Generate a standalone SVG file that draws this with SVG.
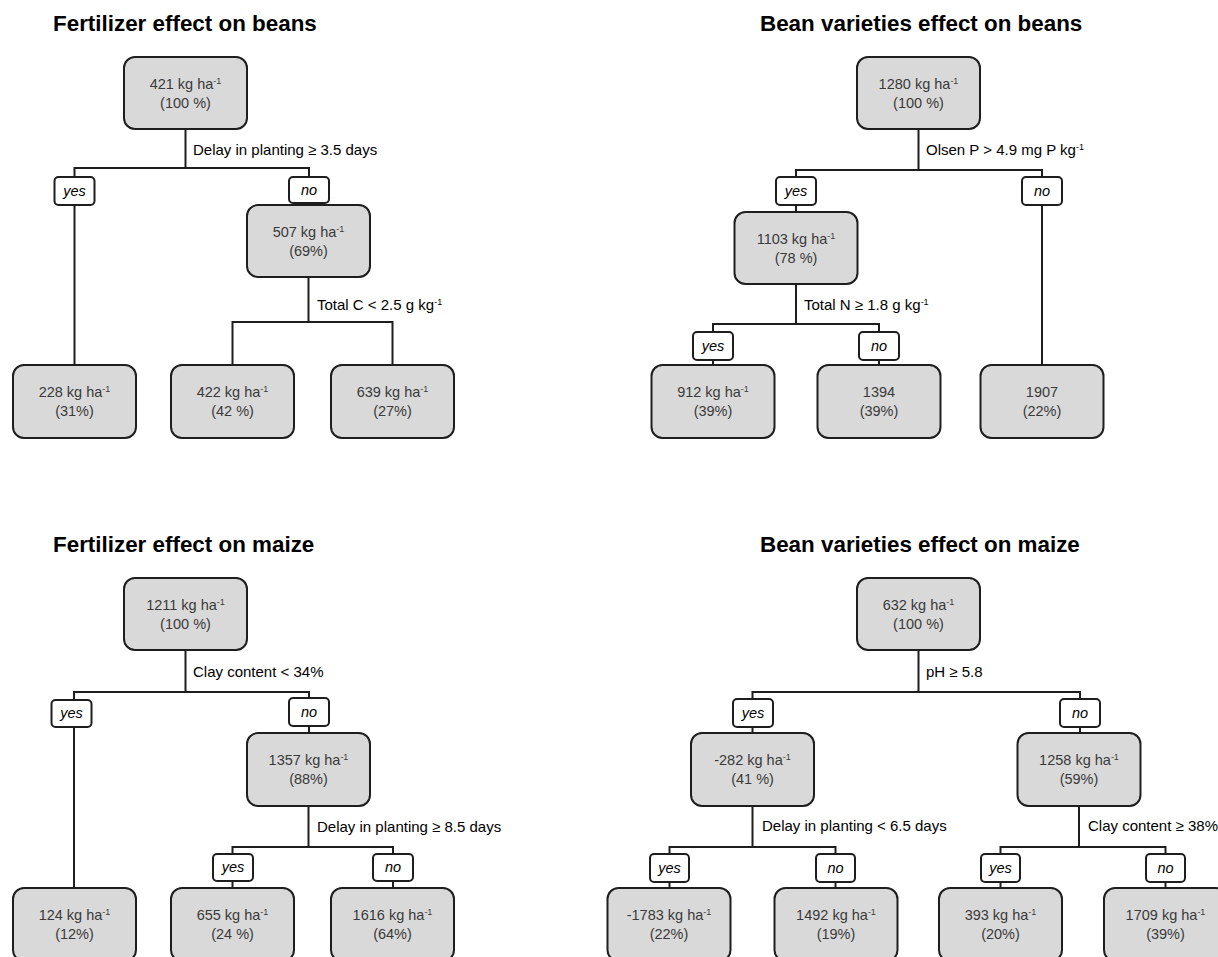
<svg xmlns="http://www.w3.org/2000/svg" width="1218" height="957" viewBox="0 0 1218 957">
<style>
.title{font-family:"Liberation Sans",Arial,sans-serif;font-size:22.4px;font-weight:bold;fill:#000}
.node rect{fill:#d9d9d9;stroke:#1e1e1e;stroke-width:2}
.node text{font-family:"Liberation Sans",Arial,sans-serif;font-size:14.5px;fill:#3a3a3a;text-anchor:middle}
.sup{font-size:9px}
.lab rect{fill:#fff;stroke:#1e1e1e;stroke-width:2}
.lab text{font-family:"Liberation Sans",Arial,sans-serif;font-size:14.5px;font-style:italic;fill:#000;text-anchor:middle}
.cond{font-family:"Liberation Sans",Arial,sans-serif;font-size:15px;fill:#000}
.conn path{fill:none;stroke:#1e1e1e;stroke-width:2}
</style>
<rect width="1218" height="957" fill="#fff"/>

<g class="conn" id="connectors">
<!-- top-left -->
<path d="M185.5,129 V168 M74.5,177 V168 H309 V177"/>
<path d="M74.5,205 V365"/>
<path d="M309,203 V205"/>
<path d="M308.5,277 V322 M232.5,365 V322 H392.5 V365"/>
<!-- top-right -->
<path d="M918.5,129 V170 M796,177 V170 H1042 V177"/>
<path d="M796,205 V212"/>
<path d="M1042,205 V365"/>
<path d="M796,284 V324 M713,332 V324 H879 V332"/>
<path d="M713,360 V365 M879,360 V365"/>
<!-- bottom-left -->
<path d="M185.5,650 V692 M74,700 V692 H309 V698"/>
<path d="M74,727 V888"/>
<path d="M309,726 V733"/>
<path d="M308.5,806 V847 M232.5,854 V847 H393 V854"/>
<path d="M232.5,881 V888 M393,881 V888"/>
<!-- bottom-right -->
<path d="M918.5,650 V692 M752.5,699 V692 H1080 V699"/>
<path d="M752.5,727 V733 M1080,727 V733"/>
<path d="M752.5,806 V847 M669.5,854 V847 H835.5 V854"/>
<path d="M1079,806 V847 M1000.5,854 V847 H1165.5 V854"/>
<path d="M669.5,882 V888 M835.5,882 V888 M1000.5,882 V888 M1165.5,882 V888"/>
</g>

<!-- titles -->
<text class="title" x="53" y="31">Fertilizer effect on beans</text>
<text class="title" x="760" y="31">Bean varieties effect on beans</text>
<text class="title" x="53" y="552">Fertilizer effect on maize</text>
<text class="title" x="760" y="552">Bean varieties effect on maize</text>

<!-- condition labels -->
<text class="cond" x="193" y="155">Delay in planting ≥ 3.5 days</text>
<text class="cond" x="317" y="310">Total C &lt; 2.5 g kg<tspan class="sup" dy="-5">-1</tspan></text>
<text class="cond" x="926" y="155">Olsen P &gt; 4.9 mg P kg<tspan class="sup" dy="-5">-1</tspan></text>
<text class="cond" x="804" y="310">Total N ≥ 1.8 g kg<tspan class="sup" dy="-5">-1</tspan></text>
<text class="cond" x="193" y="677">Clay content &lt; 34%</text>
<text class="cond" x="317" y="832">Delay in planting ≥ 8.5 days</text>
<text class="cond" x="926" y="677">pH ≥ 5.8</text>
<text class="cond" x="762" y="831">Delay in planting &lt; 6.5 days</text>
<text class="cond" x="1088" y="831">Clay content ≥ 38%</text>

<!-- top-left tree -->
<g class="node" id="tl-root"><rect x="124" y="57" width="123" height="72" rx="11"/><text x="185.5" y="89">421 kg ha<tspan class="sup" dy="-5">-1</tspan></text><text x="185.5" y="108">(100 %)</text></g>
<g class="lab" id="tl-yes"><rect x="54.5" y="177" width="40" height="28" rx="4"/><text x="74.5" y="196">yes</text></g>
<g class="lab" id="tl-no"><rect x="289" y="177" width="40" height="26" rx="4"/><text x="309" y="195">no</text></g>
<g class="node" id="tl-507"><rect x="247" y="205" width="123" height="72" rx="11"/><text x="308.5" y="237">507 kg ha<tspan class="sup" dy="-5">-1</tspan></text><text x="308.5" y="256">(69%)</text></g>
<g class="node" id="tl-228"><rect x="13" y="365" width="123" height="73" rx="11"/><text x="74.5" y="397">228 kg ha<tspan class="sup" dy="-5">-1</tspan></text><text x="74.5" y="416">(31%)</text></g>
<g class="node" id="tl-422"><rect x="171" y="365" width="123" height="73" rx="11"/><text x="232.5" y="397">422 kg ha<tspan class="sup" dy="-5">-1</tspan></text><text x="232.5" y="416">(42 %)</text></g>
<g class="node" id="tl-639"><rect x="331" y="365" width="123" height="73" rx="11"/><text x="392.5" y="397">639 kg ha<tspan class="sup" dy="-5">-1</tspan></text><text x="392.5" y="416">(27%)</text></g>

<!-- top-right tree -->
<g class="node" id="tr-root"><rect x="857" y="57" width="123" height="72" rx="11"/><text x="918.5" y="89">1280 kg ha<tspan class="sup" dy="-5">-1</tspan></text><text x="918.5" y="108">(100 %)</text></g>
<g class="lab" id="tr-yes"><rect x="776" y="177" width="40" height="28" rx="4"/><text x="796" y="196">yes</text></g>
<g class="lab" id="tr-no"><rect x="1022" y="177" width="40" height="28" rx="4"/><text x="1042" y="196">no</text></g>
<g class="node" id="tr-1103"><rect x="734.5" y="212" width="123" height="72" rx="11"/><text x="796" y="244">1103 kg ha<tspan class="sup" dy="-5">-1</tspan></text><text x="796" y="263">(78 %)</text></g>
<g class="lab" id="tr-yes2"><rect x="693" y="332" width="40" height="28" rx="4"/><text x="713" y="351">yes</text></g>
<g class="lab" id="tr-no2"><rect x="859" y="332" width="40" height="28" rx="4"/><text x="879" y="351">no</text></g>
<g class="node" id="tr-912"><rect x="651.5" y="365" width="123" height="73" rx="11"/><text x="713" y="397">912 kg ha<tspan class="sup" dy="-5">-1</tspan></text><text x="713" y="416">(39%)</text></g>
<g class="node" id="tr-1394"><rect x="817.5" y="365" width="123" height="73" rx="11"/><text x="879" y="397">1394</text><text x="879" y="416">(39%)</text></g>
<g class="node" id="tr-1907"><rect x="980.5" y="365" width="123" height="73" rx="11"/><text x="1042" y="397">1907</text><text x="1042" y="416">(22%)</text></g>

<!-- bottom-left tree -->
<g class="node" id="bl-root"><rect x="124" y="578" width="123" height="72" rx="11"/><text x="185.5" y="610">1211 kg ha<tspan class="sup" dy="-5">-1</tspan></text><text x="185.5" y="629">(100 %)</text></g>
<g class="lab" id="bl-yes"><rect x="51.5" y="700" width="40" height="27" rx="4"/><text x="71.5" y="718">yes</text></g>
<g class="lab" id="bl-no"><rect x="289" y="698" width="40" height="28" rx="4"/><text x="309" y="717">no</text></g>
<g class="node" id="bl-1357"><rect x="247" y="733" width="123" height="73" rx="11"/><text x="308.5" y="765">1357 kg ha<tspan class="sup" dy="-5">-1</tspan></text><text x="308.5" y="784">(88%)</text></g>
<g class="lab" id="bl-yes2"><rect x="213" y="854" width="40" height="27" rx="4"/><text x="233" y="872">yes</text></g>
<g class="lab" id="bl-no2"><rect x="373" y="854" width="40" height="27" rx="4"/><text x="393" y="872">no</text></g>
<g class="node" id="bl-124"><rect x="13" y="888" width="123" height="73" rx="11"/><text x="74.5" y="920">124 kg ha<tspan class="sup" dy="-5">-1</tspan></text><text x="74.5" y="939">(12%)</text></g>
<g class="node" id="bl-655"><rect x="171" y="888" width="123" height="73" rx="11"/><text x="232.5" y="920">655 kg ha<tspan class="sup" dy="-5">-1</tspan></text><text x="232.5" y="939">(24 %)</text></g>
<g class="node" id="bl-1616"><rect x="331" y="888" width="123" height="73" rx="11"/><text x="392.5" y="920">1616 kg ha<tspan class="sup" dy="-5">-1</tspan></text><text x="392.5" y="939">(64%)</text></g>

<!-- bottom-right tree -->
<g class="node" id="br-root"><rect x="857" y="578" width="123" height="72" rx="11"/><text x="918.5" y="610">632 kg ha<tspan class="sup" dy="-5">-1</tspan></text><text x="918.5" y="629">(100 %)</text></g>
<g class="lab" id="br-yes"><rect x="733" y="699" width="40" height="28" rx="4"/><text x="753" y="718">yes</text></g>
<g class="lab" id="br-no"><rect x="1060" y="699" width="40" height="28" rx="4"/><text x="1080" y="718">no</text></g>
<g class="node" id="br-282"><rect x="691" y="733" width="123" height="73" rx="11"/><text x="752.5" y="765">-282 kg ha<tspan class="sup" dy="-5">-1</tspan></text><text x="752.5" y="784">(41 %)</text></g>
<g class="node" id="br-1258"><rect x="1017.5" y="733" width="123" height="73" rx="11"/><text x="1079" y="765">1258 kg ha<tspan class="sup" dy="-5">-1</tspan></text><text x="1079" y="784">(59%)</text></g>
<g class="lab" id="br-yes2"><rect x="650" y="854" width="39" height="28" rx="4"/><text x="669.5" y="873">yes</text></g>
<g class="lab" id="br-no2"><rect x="816" y="854" width="39" height="28" rx="4"/><text x="835.5" y="873">no</text></g>
<g class="lab" id="br-yes3"><rect x="981" y="854" width="39" height="28" rx="4"/><text x="1000.5" y="873">yes</text></g>
<g class="lab" id="br-no3"><rect x="1146" y="854" width="39" height="28" rx="4"/><text x="1165.5" y="873">no</text></g>
<g class="node" id="br-1783"><rect x="607.5" y="888" width="123" height="73" rx="11"/><text x="669" y="920">-1783 kg ha<tspan class="sup" dy="-5">-1</tspan></text><text x="669" y="939">(22%)</text></g>
<g class="node" id="br-1492"><rect x="774.5" y="888" width="123" height="73" rx="11"/><text x="836" y="920">1492 kg ha<tspan class="sup" dy="-5">-1</tspan></text><text x="836" y="939">(19%)</text></g>
<g class="node" id="br-393"><rect x="939" y="888" width="123" height="73" rx="11"/><text x="1000.5" y="920">393 kg ha<tspan class="sup" dy="-5">-1</tspan></text><text x="1000.5" y="939">(20%)</text></g>
<g class="node" id="br-1709"><rect x="1104" y="888" width="123" height="73" rx="11"/><text x="1165.5" y="920">1709 kg ha<tspan class="sup" dy="-5">-1</tspan></text><text x="1165.5" y="939">(39%)</text></g>
</svg>
